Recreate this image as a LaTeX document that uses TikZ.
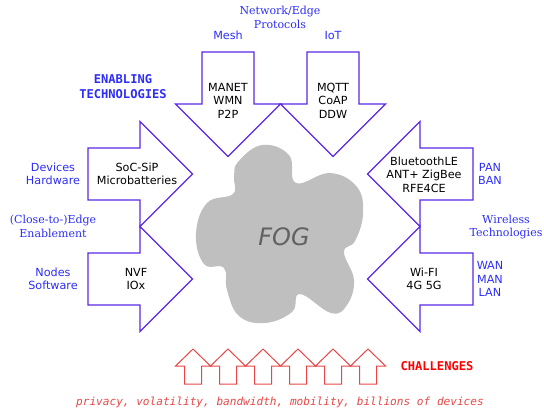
\documentclass[tikz,border=0pt]{standalone}
\usepackage{fontspec}
\setmainfont{DejaVu Sans}
\newfontfamily\seriffam{DejaVu Serif}
\newfontfamily\codefam{DejaVu Sans Mono}
\definecolor{techline}{RGB}{90,40,230}
\definecolor{labelblue}{RGB}{45,45,250}
\definecolor{chalred}{RGB}{232,70,70}
\tikzset{tech arrow/.style={draw=techline, line width=1.1pt, line join=miter},
        challenge arrow/.style={draw=chalred, line width=1pt},
        content/.style={align=center, inner sep=0pt, text=black,
                        font=\fontsize{11.2}{13.5}\selectfont},
        area label/.style={align=center, inner sep=0pt, text=labelblue,
                        font=\fontsize{11.2}{13.5}\selectfont},
        group label/.style={align=center, inner sep=0pt, text=labelblue,
                        font=\seriffam\fontsize{11}{13.5}\selectfont},
        heading/.style={align=center, inner sep=0pt,
                        font=\codefam\bfseries\fontsize{12.1}{15}\selectfont},
        }

\begin{document}
\begin{tikzpicture}[x=1pt, y=-1pt]
    \useasboundingbox (0,0) rectangle (544,410);

    % fog cloud
    \fill[gray!50] plot[smooth cycle, tension=0.7] coordinates {
        (238,162) (262,145) (289,155) (296,183) (330,173) (357,187)
        (363,214) (355,241) (344,252) (354,280) (347,305) (331,313)
        (300,294) (292,312) (265,323) (239,316) (227,290) (224,268)
        (204,264) (196,234) (207,203) (233,194) (234,177)};
    \node[text=black!62, font=\itshape\fontsize{24}{28}\selectfont] (fog) at (284,237) {FOG};

    % network/edge protocols
    \draw[tech arrow] (202,52) -- (254,52) -- (254,104) -- (280.5,104) -- (228,156.5)
        -- (175.5,104) -- (202,104) -- cycle;
    \draw[tech arrow] (307,52) -- (359,52) -- (359,104) -- (385.5,104) -- (333,156.5)
        -- (280.5,104) -- (307,104) -- cycle;

    % devices / nodes
    \draw[tech arrow] (88,148) -- (140,148) -- (140,121.5) -- (192.5,174) -- (140,226.5)
        -- (140,200) -- (88,200) -- cycle;
    \draw[tech arrow] (88,253) -- (140,253) -- (140,226.5) -- (192.5,279) -- (140,331.5)
        -- (140,305) -- (88,305) -- cycle;

    % wireless
    \draw[tech arrow] (473,148) -- (420,148) -- (420,121.5) -- (367.5,174) -- (420,226.5)
        -- (420,200) -- (473,200) -- cycle;
    \draw[tech arrow] (473,253) -- (420,253) -- (420,226.5) -- (367.5,279) -- (420,331.5)
        -- (420,305) -- (473,305) -- cycle;

    \node[content] (mesh) at (228,100.5) {MANET\\WMN\\P2P};
    \node[content] (iot) at (333,100.5) {MQTT\\CoAP\\DDW};
    \node[content] (hardware) at (137,174) {SoC-SiP\\Microbatteries};
    \node[content] (software) at (136,279) {NVF\\IOx};
    \node[content] (pan) at (424,174.5) {BluetoothLE\\ANT+ ZigBee\\RFE4CE};
    \node[content] (wan) at (424,279) {Wi-FI\\4G 5G};

    \node[area label] (meshlbl) at (228,35) {Mesh};
    \node[area label] (iotlbl) at (333,35) {IoT};
    \node[area label] (hwlbl) at (53,174) {Devices\\Hardware};
    \node[area label] (swlbl) at (53,279) {Nodes\\Software};
    \node[area label] (panlbl) at (490,174) {PAN\\BAN};
    \node[area label] (wanlbl) at (490,279) {WAN\\MAN\\LAN};

    \node[group label] (protocols) at (280,17.5) {Network/Edge\\Protocols};
    \node[group label] (enable) at (53,226.5) {(Close-to-)Edge\\Enablement};
    \node[group label] (wireless) at (506,227) {Wireless\\Technologies};

    \node[heading, text=labelblue] (enabling) at (123,86.5) {ENABLING\\TECHNOLOGIES};

    % challenges
    \foreach \i in {0,...,5}
        \draw[challenge arrow, xshift=35*\i] (184.5,384) -- (184.5,366) -- (175.5,366)
            -- (193,349) -- (210.5,366) -- (201.5,366) -- (201.5,384) -- cycle;
    \node[heading, text=red] (challenges) at (437,366) {CHALLENGES};
    \node[text=chalred, inner sep=0pt, font=\codefam\itshape\fontsize{11.1}{13}\selectfont]
        (issues) at (280,402) {privacy, volatility, bandwidth, mobility, billions of devices};
\end{tikzpicture}
\end{document}
